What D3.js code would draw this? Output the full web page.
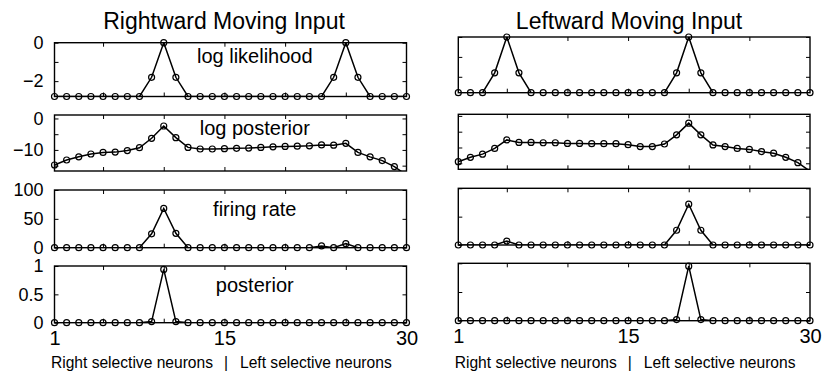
<!DOCTYPE html>
<html>
<head>
<meta charset="utf-8">
<script src="https://cdn.jsdelivr.net/npm/d3@7"></script>
<style>
  body { margin: 0; background: #fff; }
  text { font-family: "Liberation Sans", Arial, sans-serif; fill: #000; }
</style>
</head>
<body>
<script>
// neuron index 1..30
var neurons = [1,2,3,4,5,6,7,8,9,10,11,12,13,14,15,16,17,18,19,20,21,22,23,24,25,26,27,28,29,30];

// rightward moving input
var rLogLik = [-2.8,-2.8,-2.8,-2.8,-2.8,-2.8,-2.8,-2.8,-1.8,0,-1.8,-2.8,-2.8,-2.8,-2.8,
               -2.8,-2.8,-2.8,-2.8,-2.8,-2.8,-2.8,-2.8,-1.8,0,-1.8,-2.8,-2.8,-2.8,-2.8];
var rLogPost = [-14.8,-13.2,-12.2,-11.3,-10.8,-10.7,-10.2,-9.3,-6.3,-2.4,-6.1,-9.2,-9.7,-9.7,-9.6,
                -9.5,-9.4,-9.2,-9.0,-8.9,-8.8,-8.7,-8.4,-8.5,-7.9,-10.8,-12.2,-13.4,-15.3,-18];
var rRate = [0,0,0,0,0,0,0,0,24,68,25,0,0,0,0,0,0,0,0,0,0,0,3,0,7,0,0,0,0,0];
var rPost = [0,0,0,0,0,0,0,0,0.02,0.94,0.02,0,0,0,0,0,0,0,0,0,0,0,0,0,0,0,0,0,0,0];

// leftward moving input
var lLogLik = [-2.8,-2.8,-2.8,-1.8,0,-1.8,-2.8,-2.8,-2.8,-2.8,-2.8,-2.8,-2.8,-2.8,-2.8,
               -2.8,-2.8,-2.8,-1.8,0,-1.8,-2.8,-2.8,-2.8,-2.8,-2.8,-2.8,-2.8,-2.8,-2.8];
var lLogPost = [-14.5,-13.1,-12.1,-10.3,-7.6,-8.4,-8.4,-8.5,-8.5,-8.7,-8.7,-8.8,-8.8,-8.8,-9.1,
                -9.7,-9.7,-8.9,-6.0,-2.3,-6.0,-9.2,-9.7,-10.3,-10.6,-11.3,-11.8,-13.1,-14.8,-17.5];
var lRate = [0,0,0,0,7,0,0,0,0,0,0,0,0,0,0,0,0,0,26,72,26,0,0,0,0,0,0,0,0,0];
var lPost = [0,0,0,0,0,0,0,0,0,0,0,0,0,0,0,0,0,0,0.02,0.95,0.02,0,0,0,0,0,0,0,0,0];

var titles = ["Rightward Moving Input", "Leftward Moving Input"];
var rowLabels = ["log likelihood", "log posterior", "firing rate", "posterior"];
var yTicks = [[-2,-1,0], [-15,-10,-5,0], [0,50,100], [0,0.5,1]];
var yTickLabels = [["−2","","0"], ["","−10","","0"], ["0","50","100"], ["0","0.5","1"]];
var xTicks = [5,10,15,20,25];
var xTickLabelVals = [1,15,30];
var xLabelParts = ["Right selective neurons", "|", "Left selective neurons"];

var width = 828, height = 379;

var svg = d3.select("body").append("svg")
  .attr("width", width).attr("height", height);

// layout of the two columns of panels
var cols = [
  {x0: 54.5, x1: 406.5, tops: [42.7,115,190,266], bots: [96.5,171,247.7,322.7],
   domains: [[-2.8,0],[-16.7,1.1],[0,100],[0,1]],
   series: [rLogLik, rLogPost, rRate, rPost], yLabels: true, titleX: 224},
  {x0: 458.3, x1: 810, tops: [37,114.3,188.3,263.3], bots: [92.7,169.3,245,320.7],
   domains: [[-2.8,0],[-16.9,0.5],[0,100],[0,1]],
   series: [lLogLik, lLogPost, lRate, lPost], yLabels: false, titleX: 629}
];
var labelDy = [20.6, 20, 26, 25.7];

cols.forEach(function(c, ci){
  var x = d3.scaleLinear().domain([1,30]).range([c.x0, c.x1]);

  svg.append("text")
    .attr("x", c.titleX).attr("y", 28.5)
    .attr("text-anchor","middle")
    .style("font-size","23px")
    .text(titles[ci]);

  c.series.forEach(function(vals, ri){
    var top = c.tops[ri], bot = c.bots[ri];
    var y = d3.scaleLinear().domain(c.domains[ri]).range([bot, top]);
    var g = svg.append("g");
    var clipId = "clip" + ci + "_" + ri;

    g.append("clipPath").attr("id", clipId)
      .append("rect").attr("x", c.x0).attr("y", top)
      .attr("width", c.x1 - c.x0).attr("height", bot - top);

    // inward ticks on all four sides
    var la = d3.axisLeft(y).tickValues(yTicks[ri]).tickSize(-4).tickPadding(11)
      .tickFormat(function(d, i){ return c.yLabels ? yTickLabels[ri][i] : ""; });
    var gl = g.append("g").attr("transform","translate(" + c.x0 + ",0)").call(la);
    gl.selectAll("text").style("font-size","18px");

    g.append("g").attr("transform","translate(" + c.x1 + ",0)")
      .call(d3.axisRight(y).tickValues(yTicks[ri]).tickSize(-4).tickFormat(""));
    g.append("g").attr("transform","translate(0," + top + ")")
      .call(d3.axisTop(x).tickValues(xTicks).tickSize(-4).tickFormat(""));
    g.append("g").attr("transform","translate(0," + bot + ")")
      .call(d3.axisBottom(x).tickValues(xTicks).tickSize(-4).tickFormat(""));

    g.selectAll(".domain").remove();
    g.selectAll(".tick line").attr("stroke","#000").attr("stroke-width",1);

    g.append("rect")
      .attr("x", c.x0).attr("y", top)
      .attr("width", c.x1 - c.x0).attr("height", bot - top)
      .attr("fill","none").attr("stroke","#000").attr("stroke-width",1.4);

    var line = d3.line()
      .x(function(d, i){ return x(neurons[i]); })
      .y(function(d){ return y(d); });

    g.append("path").datum(vals)
      .attr("clip-path","url(#" + clipId + ")")
      .attr("d", line)
      .attr("fill","none").attr("stroke","#000").attr("stroke-width",1.5);

    var dom = c.domains[ri];
    g.selectAll("circle.m")
      .data(vals.map(function(v, i){ return {n: neurons[i], v: v}; })
        .filter(function(d){ return d.v >= dom[0] - 1e-9 && d.v <= dom[1] + 1e-9; }))
      .enter().append("circle").attr("class","m")
      .attr("cx", function(d){ return x(d.n); })
      .attr("cy", function(d){ return y(d.v); })
      .attr("r", 3)
      .attr("fill","none").attr("stroke","#000").attr("stroke-width",1.2);

    if (ci == 0) {
      g.append("text")
        .attr("x", x(17.5)).attr("y", top + labelDy[ri])
        .attr("text-anchor","middle")
        .style("font-size","20px")
        .text(rowLabels[ri]);
    }

    if (ri == 3) {
      var gb = g.append("g").attr("transform","translate(0," + bot + ")")
        .call(d3.axisBottom(x).tickValues(xTickLabelVals).tickSize(0).tickPadding(8)
          .tickFormat(d3.format("d")));
      gb.select(".domain").remove();
      gb.selectAll("text").style("font-size","20px");

      var xl = c.x0 - 3.5;
      g.append("text").attr("x", xl + 162).attr("y", 368)
        .attr("text-anchor","end").style("font-size","15.6px")
        .text(xLabelParts[0]);
      g.append("text").attr("x", xl + 175).attr("y", 368)
        .attr("text-anchor","middle").style("font-size","15.6px")
        .text(xLabelParts[1]);
      g.append("text").attr("x", xl + 189).attr("y", 368)
        .style("font-size","15.6px")
        .text(xLabelParts[2]);
    }
  });
});
</script>
</body>
</html>
